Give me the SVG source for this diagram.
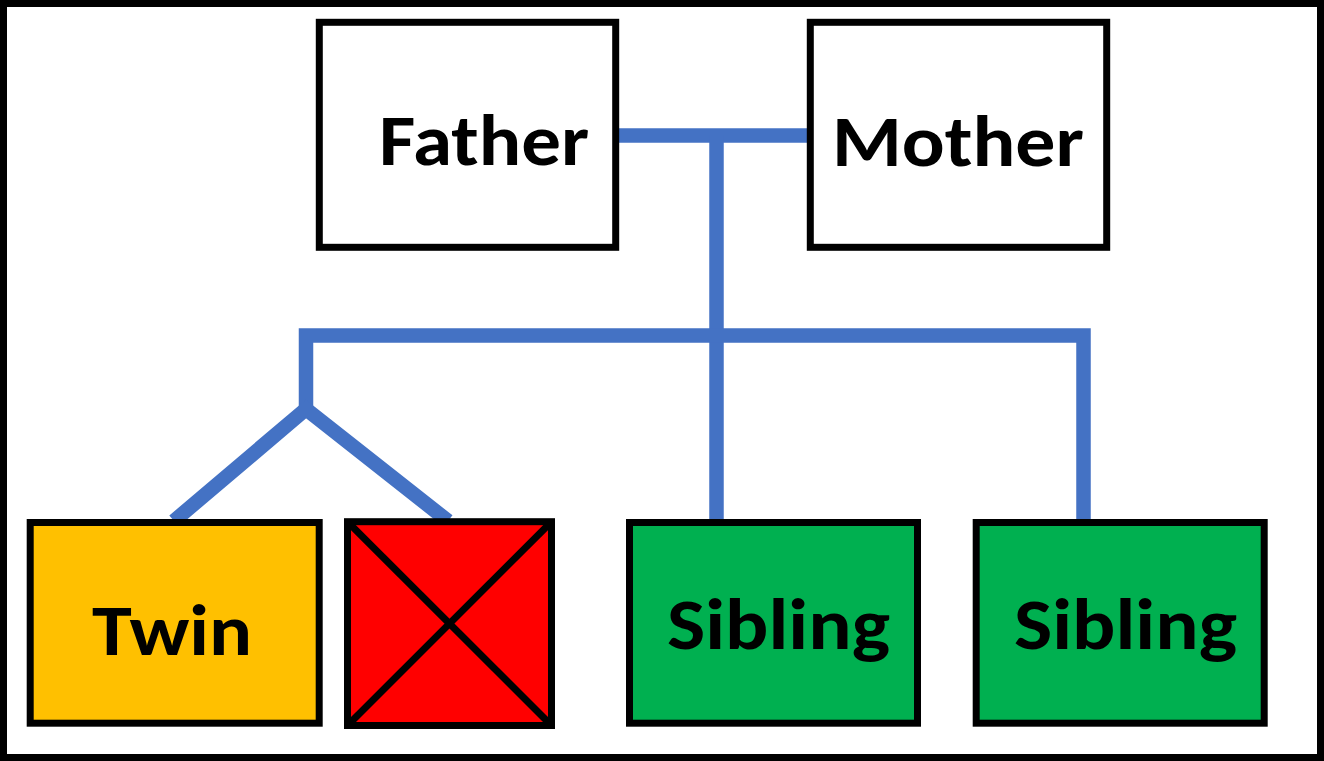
<svg xmlns="http://www.w3.org/2000/svg" width="1324" height="761" viewBox="0 0 1324 761">
  <style>
    .box { stroke: #000000; stroke-width: 7; }
    .conn { fill: none; stroke: #4472C4; stroke-width: 14.5; stroke-linejoin: miter; stroke-linecap: butt; }
    .lbl { font-family: Carlito, Lato, "Open Sans", sans-serif; font-weight: bold; font-size: 72px; fill: #000000; }
  </style>
  <rect x="3.5" y="3.5" width="1317" height="754" fill="#FFFFFF" stroke="#000000" stroke-width="7"/>
  <g id="connectors">
    <line class="conn" x1="615" y1="135.5" x2="811" y2="135.5"/>
    <line class="conn" x1="716.5" y1="135.5" x2="716.5" y2="522"/>
    <path class="conn" d="M306,410 V335.5 H1083.5 V522"/>
    <path class="conn" d="M174,521 L306,409 L448,521"/>
  </g>
  <g id="father">
    <rect class="box" x="319.3" y="22.3" width="296.4" height="225" fill="#FFFFFF"/>
    <text class="lbl" x="379" y="165" textLength="210" lengthAdjust="spacingAndGlyphs">Father</text>
  </g>
  <g id="mother">
    <rect class="box" x="810.3" y="22.3" width="296.4" height="225" fill="#FFFFFF"/>
    <text class="lbl" x="832" y="166" textLength="252" lengthAdjust="spacingAndGlyphs">Mother</text>
  </g>
  <g id="twin">
    <rect class="box" x="30.2" y="522.5" width="289" height="200.7" fill="#FFC000"/>
    <text class="lbl" x="92" y="655" textLength="160" lengthAdjust="spacingAndGlyphs">Twin</text>
  </g>
  <g id="lost-twin">
    <rect class="box" x="347.5" y="521.7" width="204" height="203.8" fill="#FF0000"/>
    <line x1="347.5" y1="521.7" x2="551.5" y2="725.5" stroke="#000000" stroke-width="7"/>
    <line x1="551.5" y1="521.7" x2="347.5" y2="725.5" stroke="#000000" stroke-width="7"/>
  </g>
  <g id="sibling1">
    <rect class="box" x="629.5" y="522.5" width="288" height="200.7" fill="#00B050"/>
    <text class="lbl" x="667" y="649" textLength="223" lengthAdjust="spacingAndGlyphs">Sibling</text>
  </g>
  <g id="sibling2">
    <rect class="box" x="976.2" y="522.5" width="288" height="200.7" fill="#00B050"/>
    <text class="lbl" x="1014" y="649" textLength="223" lengthAdjust="spacingAndGlyphs">Sibling</text>
  </g>
</svg>
